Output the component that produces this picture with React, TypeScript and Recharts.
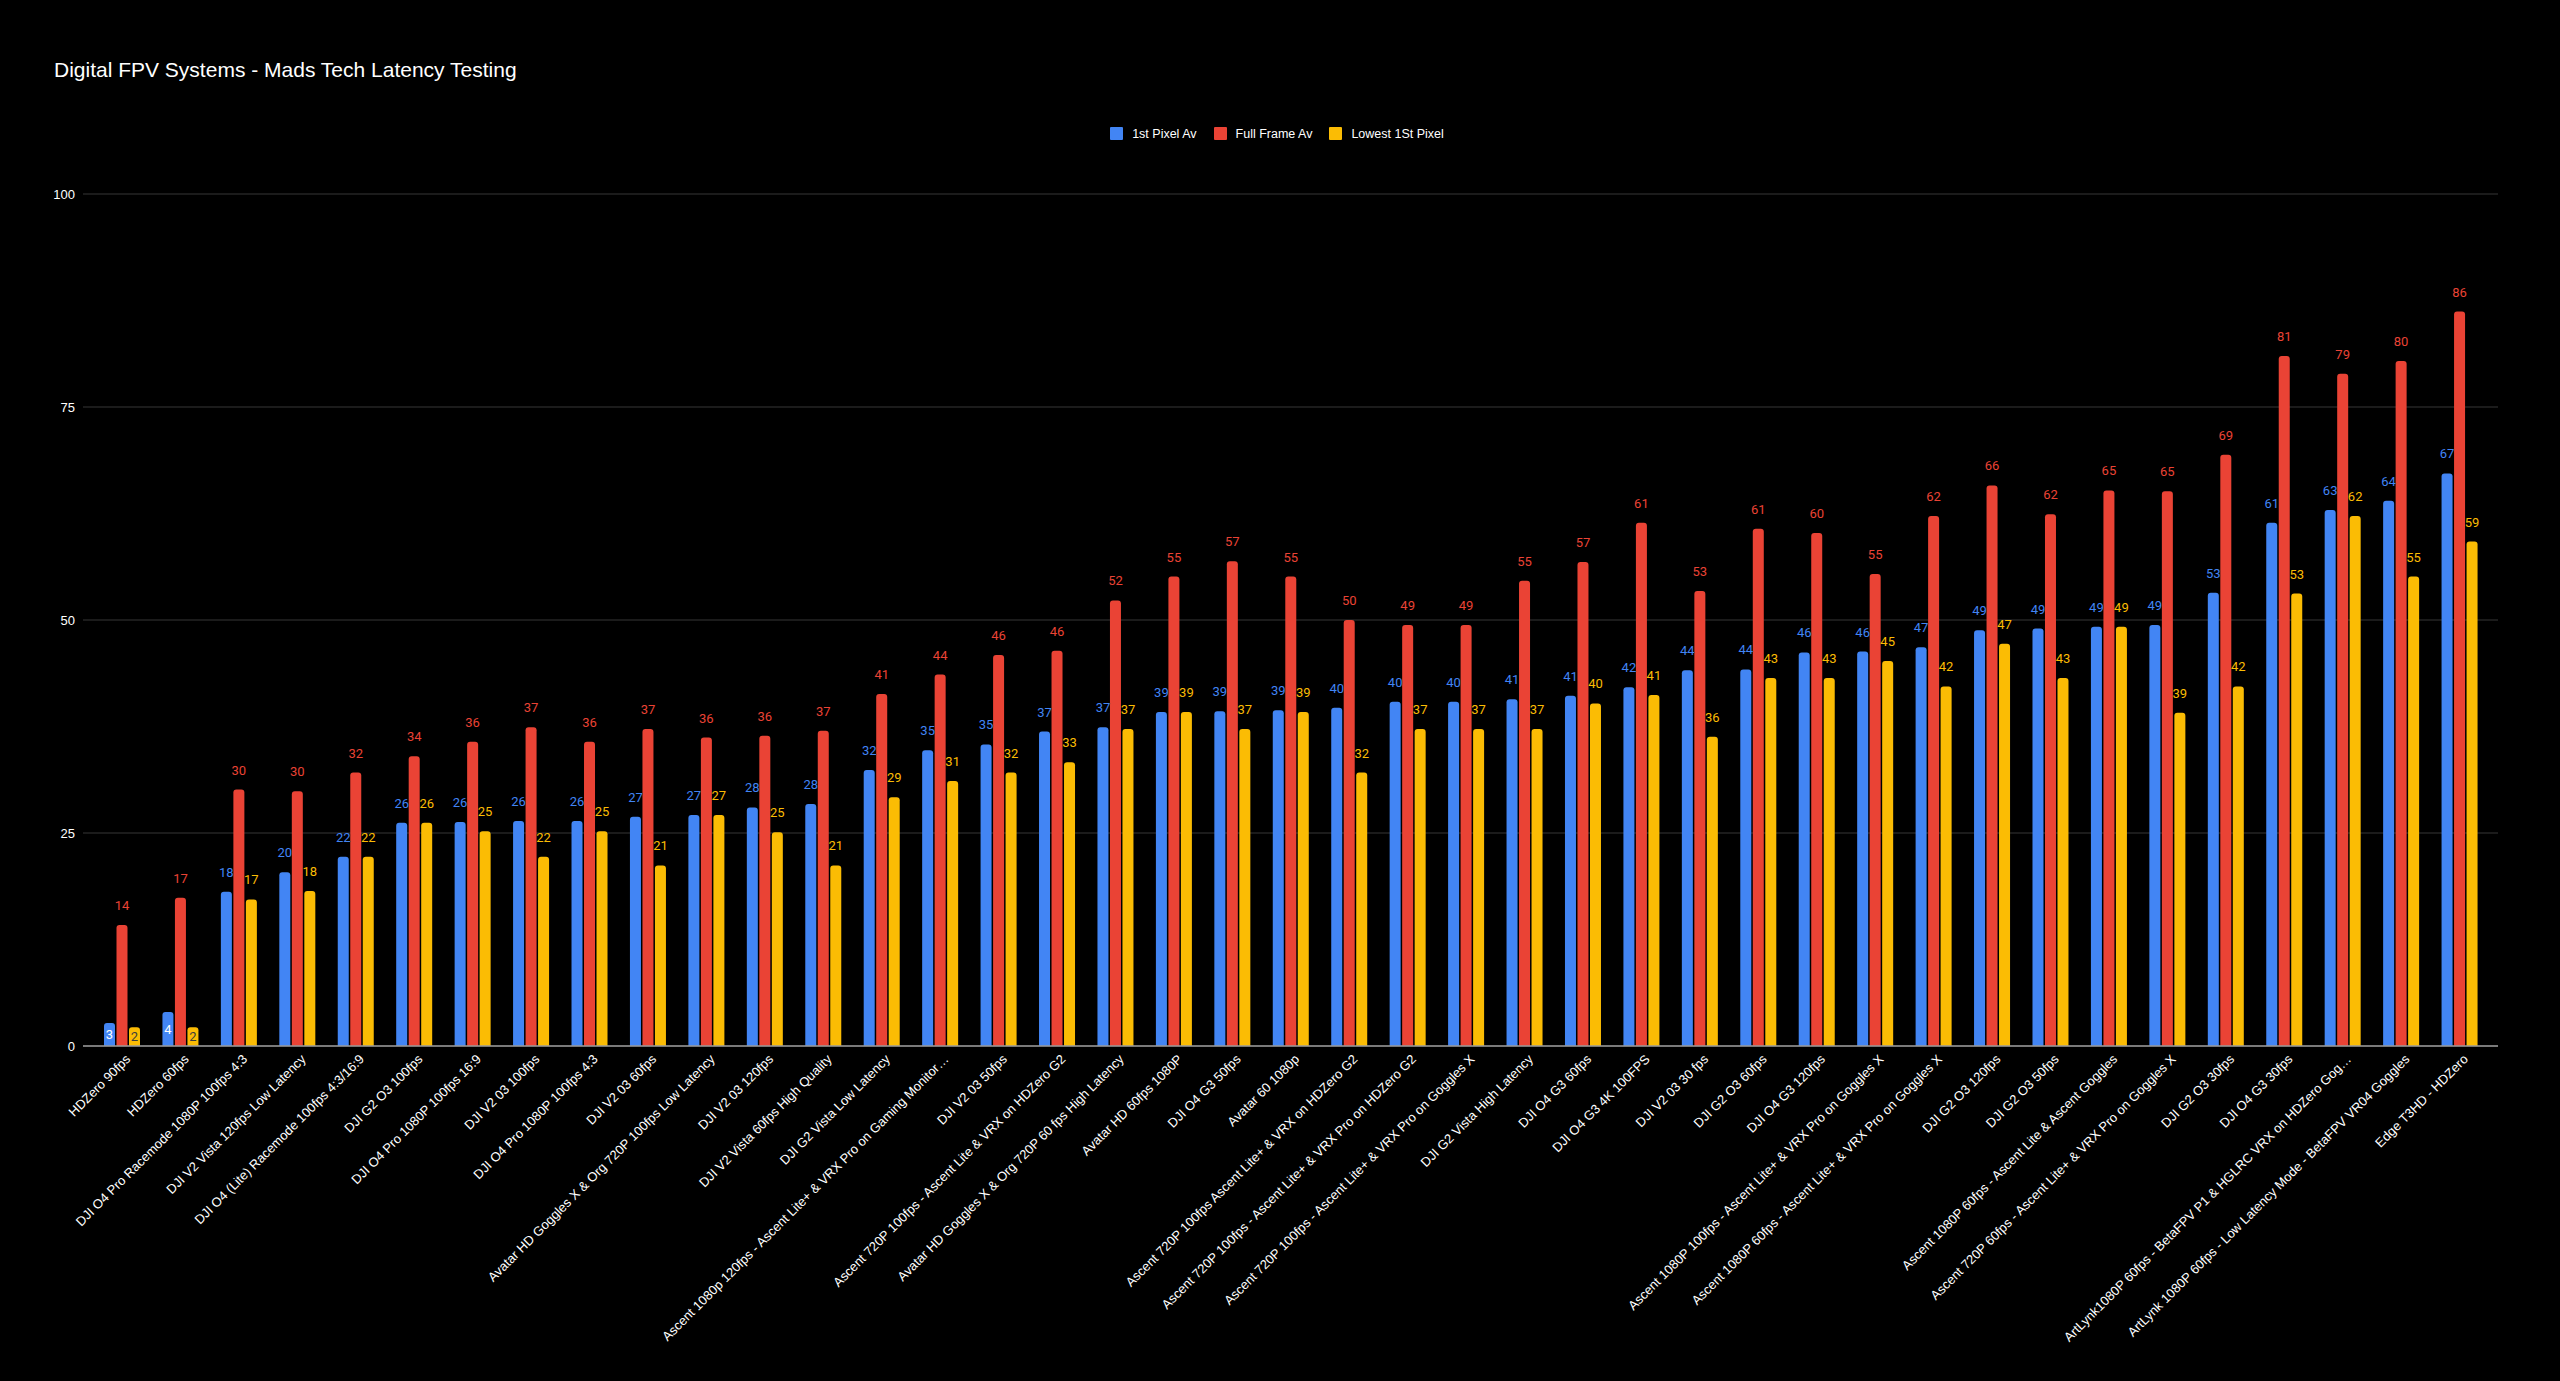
import React from 'react';
import { BarChart, Bar, XAxis, YAxis, CartesianGrid, LabelList } from 'recharts';

const categories = [
    'HDZero 90fps',
    'HDZero 60fps',
    'DJI O4 Pro Racemode 1080P 100fps 4:3',
    'DJI V2 Vista 120fps Low Latency',
    'DJI O4 (Lite) Racemode 100fps 4:3/16:9',
    'DJI G2 O3 100fps',
    'DJI O4 Pro 1080P 100fps 16:9',
    'DJI V2 03 100fps',
    'DJI O4 Pro 1080P 100fps 4:3',
    'DJI V2 03 60fps',
    'Avatar HD Goggles X & Org 720P 100fps Low Latency',
    'DJI V2 03 120fps',
    'DJI V2 Vista 60fps High Quality',
    'DJI G2 Vista Low Latency',
    'Ascent 1080p 120fps - Ascent Lite+ & VRX Pro on Gaming Monitor…',
    'DJI V2 03 50fps',
    'Ascent 720P 100fps - Ascent Lite & VRX on HDZero G2',
    'Avatar HD Goggles X & Org 720P 60 fps High Latency',
    'Avatar HD 60fps  1080P',
    'DJI O4 G3 50fps',
    'Avatar 60 1080p',
    'Ascent 720P 100fps Ascent Lite+ & VRX on HDZero G2',
    'Ascent 720P 100fps -  Ascent Lite+ & VRX Pro on HDZero G2',
    'Ascent 720P 100fps - Ascent Lite+ & VRX Pro on Goggles X',
    'DJI G2 Vista High Latency',
    'DJI O4 G3 60fps',
    'DJI O4 G3 4K 100FPS',
    'DJI V2 03 30 fps',
    'DJI G2 O3 60fps',
    'DJI O4 G3 120fps',
    'Ascent 1080P 100fps - Ascent Lite+ & VRX Pro on Goggles X',
    'Ascent 1080P 60fps - Ascent Lite+ & VRX Pro on Goggles X',
    'DJI G2 O3 120fps',
    'DJI G2 O3 50fps',
    'Ascent 1080P 60fps - Ascent  Lite & Ascent Goggles',
    'Ascent 720P 60fps - Ascent Lite+ & VRX Pro on Goggles X',
    'DJI G2 O3 30fps',
    'DJI O4 G3 30fps',
    'ArtLynk1080P 60fps -  BetaFPV P1 & HGLRC VRX on HDZero Gog…',
    'ArtLynk 1080P 60fps - Low Latency Mode - BetaFPV VR04 Goggles',
    'Edge T3HD - HDZero',
];

const firstPixelAv = [
    2.7, 4.0, 18.1, 20.4, 22.2, 26.2, 26.3, 26.4, 26.4, 26.9, 27.1, 28.0, 28.4, 32.4,
    34.7, 35.4, 36.9, 37.4, 39.2, 39.3, 39.4, 39.7, 40.4, 40.4, 40.7, 41.1, 42.1, 44.1,
    44.2, 46.2, 46.3, 46.8, 48.8, 49.0, 49.2, 49.4, 53.2, 61.4, 62.9, 64.0, 67.2,
];

const fullFrameAv = [
    14.2, 17.4, 30.1, 29.9, 32.1, 34.0, 35.7, 37.4, 35.7, 37.2, 36.2, 36.4, 37.0, 41.3,
    43.6, 45.9, 46.4, 52.3, 55.1, 56.9, 55.1, 50.0, 49.4, 49.4, 54.6, 56.8, 61.4, 53.4,
    60.7, 60.2, 55.4, 62.2, 65.8, 62.4, 65.2, 65.1, 69.4, 81.0, 78.9, 80.4, 86.2,
];

const lowestFirstPixel = [
    2.2, 2.2, 17.2, 18.2, 22.2, 26.2, 25.2, 22.2, 25.2, 21.2, 27.1, 25.1, 21.2, 29.2,
    31.1, 32.1, 33.3, 37.2, 39.2, 37.2, 39.2, 32.1, 37.2, 37.2, 37.2, 40.2, 41.2, 36.3,
    43.2, 43.2, 45.2, 42.2, 47.2, 43.2, 49.2, 39.1, 42.2, 53.1, 62.2, 55.1, 59.2,
];

const yTicks = [0, 25, 50, 75, 100];

const series = [
    { key: 'firstPixel', name: '1st Pixel Av', color: '#4285f4', inside: '#ffffff' },
    { key: 'fullFrame', name: 'Full Frame Av', color: '#ea4335', inside: '#ffffff' },
    { key: 'lowest', name: 'Lowest 1St Pixel', color: '#fbbc04', inside: '#3c3c3c' },
];

const chartData = categories.map((name, i) => ({
    name,
    firstPixel: firstPixelAv[i],
    fullFrame: fullFrameAv[i],
    lowest: lowestFirstPixel[i],
}));

const FONT = '"Liberation Sans", Arial, sans-serif';

const AngledTick = (props: any) => {
    const { x, y, payload } = props;
    return (
        <g transform={`translate(${x + 9},${y + 14}) rotate(-45)`}>
            <text textAnchor="end" fill="#ffffff" fontSize={13} fontFamily={FONT}>
                {payload.value}
            </text>
        </g>
    );
};

// labels go above the bar, or inside it when the bar is too short
const makeLabel = (color: string, insideColor: string) => (props: any) => {
    const { x, y, width, height, value } = props;
    const cx = Number(x) + Number(width) / 2;
    const text = Math.round(Number(value));
    if (Number(height) < 40) {
        return (
            <text x={cx} y={Number(y) + Number(height) / 2} dy="0.35em" textAnchor="middle"
                fill={insideColor} fontSize={13} fontFamily="Roboto">
                {text}
            </text>
        );
    }
    return (
        <text x={cx} y={Number(y) - 15} textAnchor="middle" fill={color} fontSize={13} fontFamily="Roboto">
            {text}
        </text>
    );
};

const App: React.FC = () => {
    return (
        <div style={{ position: 'absolute', left: 0, top: 0, width: 2560, height: 1381, background: '#000', overflow: 'hidden' }}>
            <div style={{ position: 'absolute', left: 54, top: 59, fontSize: 21, lineHeight: '21px', fontFamily: FONT, color: '#fff' }}>
                Digital FPV Systems - Mads Tech Latency Testing
            </div>
            <div style={{ position: 'absolute', left: 0, top: 126, width: 2554, display: 'flex', justifyContent: 'center', gap: 17, fontFamily: FONT, fontSize: 12.5, color: '#fff' }}>
                {series.map(s => (
                    <div key={s.key} style={{ display: 'flex', alignItems: 'center', height: 15 }}>
                        <span style={{ display: 'inline-block', width: 13, height: 13, background: s.color, borderRadius: 1, marginRight: 9 }} />
                        <span>{s.name}</span>
                    </div>
                ))}
            </div>
            <BarChart
                width={2560}
                height={1381}
                data={chartData}
                margin={{ top: 194, right: 62, bottom: 0, left: 0 }}
                barGap={1.5}
                barSize={11}
            >
                <CartesianGrid vertical={false} stroke="#363636" />
                <XAxis
                    dataKey="name"
                    interval={0}
                    height={335}
                    tickLine={false}
                    tickSize={0}
                    tickMargin={0}
                    axisLine={{ stroke: '#9a9a9a', strokeWidth: 1.5 }}
                    padding={{ left: 10, right: 9 }}
                    tick={<AngledTick />}
                />
                <YAxis
                    width={83}
                    domain={[0, 100]}
                    ticks={yTicks}
                    axisLine={false}
                    tickLine={false}
                    tick={{ fill: '#ffffff', fontSize: 13, fontFamily: FONT }}
                />
                {series.map(s => (
                    <Bar key={s.key} dataKey={s.key} name={s.name} fill={s.color} radius={[3, 3, 0, 0]} isAnimationActive={false}>
                        <LabelList dataKey={s.key} content={makeLabel(s.color, s.inside)} />
                    </Bar>
                ))}
            </BarChart>
        </div>
    );
};

export default App;
